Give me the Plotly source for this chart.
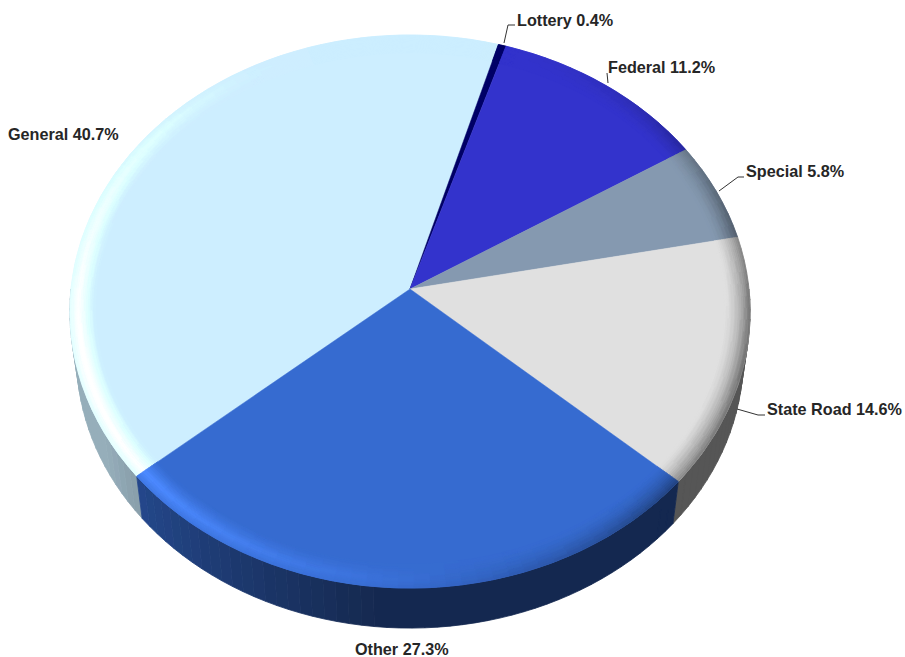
import math
import plotly.graph_objects as go

labels = ["General", "Lottery", "Federal", "Special", "State Road", "Other"]
values = [40.7, 0.4, 11.2, 5.8, 14.6, 27.3]
colors = [(205, 238, 255), (0, 0, 102), (51, 51, 204), (133, 153, 176), (224, 224, 224), (54, 107, 208)]

W, H = 905, 657
START = 229.8
CX, CY, RX, RY, K = 410, 289, 339, 274.7, 0.0815
DEPTH, SHRINK = 46, 0.98
BEVEL = 0.075


def project(theta, r=1.0, lower=False):
    a = math.radians(theta)
    X, Y = r * math.sin(a), r * math.cos(a)
    w = 1 + K * Y
    x, y = RX * X / w, -RY * Y / w
    if lower:
        return CX + SHRINK * x, CY + DEPTH + SHRINK * y
    return CX + x, CY + y


def arc(t0, t1, r=1.0, lower=False, step=1.0):
    n = max(2, int(abs(t1 - t0) / step) + 1)
    return [project(t0 + (t1 - t0) * i / (n - 1), r, lower) for i in range(n)]


def to_rgb(c):
    q = [min(255, max(0, int(round(v / 2.0) * 2))) for v in c]
    return "rgb(%d,%d,%d)" % tuple(q)


def rim_color(base, theta, t):
    a = math.radians(theta)
    light = max(0.0, math.cos(a - math.radians(250))) ** 2
    dark = max(0.0, math.cos(a - math.radians(105))) ** 2
    gl = (t / 0.35) * 0.6 + 0.4 if t < 0.35 else ((1 - t) / 0.65) ** 1.3
    gd = (1 - t) ** 1.6
    l = light * gl
    d = dark * gd * 0.5
    return [v * (1 + 0.2 * l) * (1 - d) + 16 * l for v in base]


def wall_color(base, theta):
    f = 0.38 + 0.35 * min(1.0, max(0.0, (theta - 185) / 55.0))
    return [v * f for v in base]


bounds = []
cursor = START
for v in values:
    s = cursor % 360
    bounds.append((s, s + v * 3.6))
    cursor += v * 3.6

fig = go.Figure()


def add_groups(groups):
    for col, polys in groups.items():
        xs, ys = [], []
        for poly in polys:
            xs += [p[0] for p in poly] + [poly[0][0], None]
            ys += [p[1] for p in poly] + [poly[0][1], None]
        fig.add_trace(go.Scatter(x=xs, y=ys, mode="lines", fill="toself", fillcolor=col,
                                 line=dict(color=col, width=0.8), hoverinfo="skip", showlegend=False))


# side wall
walls = {}
for (t0, t1), base in zip(bounds, colors):
    lo, hi = max(t0, 90), min(t1, 270)
    if hi <= lo:
        continue
    n = max(1, int((hi - lo) / 2))
    for i in range(n):
        a = lo + (hi - lo) * i / n
        b = lo + (hi - lo) * (i + 1) / n
        poly = arc(a, b) + arc(b, a, lower=True)
        walls.setdefault(to_rgb(wall_color(base, (a + b) / 2)), []).append(poly)
add_groups(walls)

# top faces
for (t0, t1), base, name, v in zip(bounds, colors, labels, values):
    pts = [project(t0, 0)] + arc(t0, t1) + [project(t0, 0)]
    fig.add_trace(go.Scatter(x=[p[0] for p in pts], y=[p[1] for p in pts], mode="lines", fill="toself",
                             fillcolor="rgb(%d,%d,%d)" % base, line=dict(color="rgb(%d,%d,%d)" % base, width=0.5),
                             name=name, text="%s %.1f%%" % (name, v), hoverinfo="text", showlegend=False))

# bevelled rim
bands = 14
rim = {}
for (t0, t1), base in zip(bounds, colors):
    n = max(1, int((t1 - t0) / 2.5))
    for i in range(n):
        a = t0 + (t1 - t0) * i / n
        b = t0 + (t1 - t0) * (i + 1) / n
        for j in range(bands):
            r0 = 1 - BEVEL * j / bands
            r1 = 1 - BEVEL * (j + 1) / bands
            col = to_rgb(rim_color(base, (a + b) / 2, (j + 0.5) / bands))
            rim.setdefault(col, []).append([project(a, r0), project(b, r0), project(b, r1), project(a, r1)])
add_groups(rim)

# labels and leaders
label_pos = [(6, 134, "left"), (515, 20, "left"), (606, 67, "left"), (744, 171, "left"), (765, 409, "left"), (402, 649, "center")]
leaders = [None,
           [(504, 43), (508, 25), (515, 25)],
           [(608, 83), (607, 73)],
           [(719, 191), (738, 177), (744, 177)],
           [(737, 409), (758, 415), (765, 415)],
           None]
for name, v, (x, y, al), ld in zip(labels, values, label_pos, leaders):
    fig.add_annotation(x=x, y=y, xref="x", yref="y", text="%s %.1f%%" % (name, v), showarrow=False,
                       xanchor=al, yanchor="middle",
                       font=dict(family="Liberation Sans", size=16.2, color="#262626", weight="bold"))
    if ld:
        fig.add_trace(go.Scatter(x=[p[0] for p in ld], y=[p[1] for p in ld], mode="lines",
                                 line=dict(color="#333333", width=1), hoverinfo="skip", showlegend=False))

fig.update_layout(width=W, height=H, margin=dict(l=0, r=0, t=0, b=0), paper_bgcolor="white", plot_bgcolor="white",
                  showlegend=False,
                  xaxis=dict(range=[0, W], visible=False, fixedrange=True),
                  yaxis=dict(range=[H, 0], visible=False, fixedrange=True))
fig.write_html("out.html", config={"displayModeBar": False},
               post_script="document.body.style.margin='0';document.body.style.overflow='hidden';")
